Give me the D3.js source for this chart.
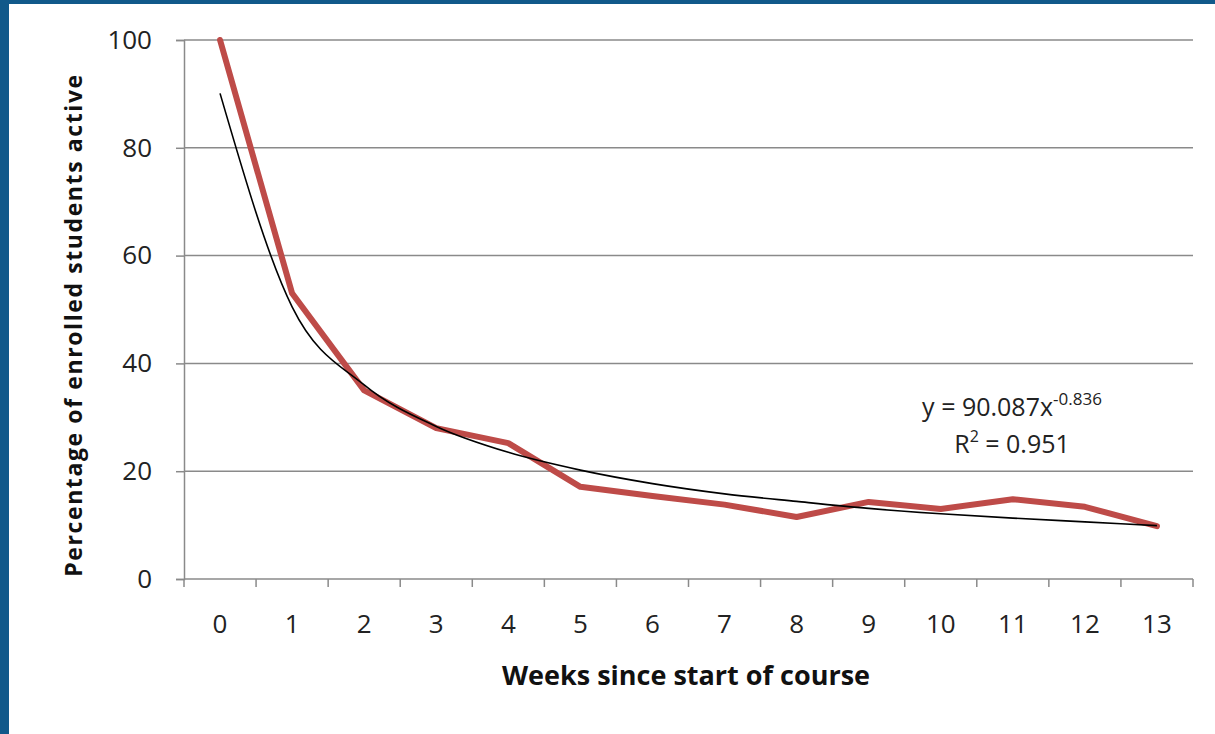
<!DOCTYPE html>
<html>
<head>
<meta charset="utf-8">
<script src="https://cdn.jsdelivr.net/npm/d3@7"></script>
<style>
  body { margin: 0; background: #fff; }
  svg { display: block; font-family: "Open Sans", "Liberation Sans", sans-serif; }
  .tick text { fill: #222; font-size: 26px; font-family: "Open Sans", sans-serif; }
  .axis-title { font-weight: bold; fill: #111; }
</style>
</head>
<body>
<div id="chart"></div>
<script>
const svgWidth = 1215;
const svgHeight = 734;

// weeks since start of course (category axis)
var weeks = [0, 1, 2, 3, 4, 5, 6, 7, 8, 9, 10, 11, 12, 13];
// percentage of enrolled students active
var active = [100, 53, 35, 28, 25.2, 17.1, 15.4, 13.8, 11.5, 14.3, 13, 14.8, 13.4, 9.8];
// power trendline values at each week (y = 90.087x^-0.836)
var trend = [90.1, 50.5, 36.0, 28.3, 23.5, 20.2, 17.7, 15.8, 14.4, 13.1, 12.1, 11.3, 10.6, 9.9];
var yTicks = [0, 20, 40, 60, 80, 100];

var margin = { top: 40, right: 22, bottom: 155, left: 184 };
var width = svgWidth - margin.left - margin.right;
var height = svgHeight - margin.top - margin.bottom;

var svg = d3.select("#chart")
  .append("svg")
  .attr("width", svgWidth)
  .attr("height", svgHeight);

// blue frame along top and left edge
svg.append("rect").attr("x", 0).attr("y", 0).attr("width", svgWidth).attr("height", 4).attr("fill", "#11598a");
svg.append("rect").attr("x", 0).attr("y", 0).attr("width", 9).attr("height", svgHeight).attr("fill", "#11598a");

var chartGroup = svg.append("g")
  .attr("transform", `translate(${margin.left}, ${margin.top})`);

var xBand = d3.scaleBand()
  .domain(weeks)
  .range([0, width]);

var yLinearScale = d3.scaleLinear()
  .domain([0, 100])
  .range([height, 0]);

// gridlines
chartGroup.append("g")
  .selectAll("line")
  .data(yTicks.filter(d => d > 0))
  .enter()
  .append("line")
  .attr("x1", 0)
  .attr("x2", width)
  .attr("y1", d => yLinearScale(d))
  .attr("y2", d => yLinearScale(d))
  .attr("stroke", "#8a8a8a")
  .attr("stroke-width", 1.5);

// y axis
var leftAxis = d3.axisLeft(yLinearScale)
  .tickValues(yTicks)
  .tickSize(8)
  .tickPadding(24);

var yAxis = chartGroup.append("g").call(leftAxis);
yAxis.select(".domain").attr("stroke", "#8a8a8a").attr("stroke-width", 1.5);
yAxis.selectAll(".tick line").attr("stroke", "#8a8a8a").attr("stroke-width", 1.5);

// x axis: ticks sit between categories
var bottomAxis = d3.axisBottom(xBand)
  .tickSize(0)
  .tickPadding(36);

var xAxis = chartGroup.append("g")
  .attr("transform", `translate(0, ${height})`)
  .call(bottomAxis);
xAxis.select(".domain").remove();

xAxis.append("line")
  .attr("x1", 0).attr("x2", width)
  .attr("stroke", "#8a8a8a").attr("stroke-width", 1.5);

xAxis.selectAll(".sep")
  .data(weeks.concat([weeks.length]))
  .enter()
  .append("line")
  .attr("class", "sep")
  .attr("x1", (d, i) => i * xBand.step())
  .attr("x2", (d, i) => i * xBand.step())
  .attr("y1", 0)
  .attr("y2", 8)
  .attr("stroke", "#8a8a8a")
  .attr("stroke-width", 1.5);

var xPos = d => xBand(d) + xBand.bandwidth() / 2;

// data line
var dataLine = d3.line()
  .x((d, i) => xPos(weeks[i]))
  .y(d => yLinearScale(d));

var trendLine = d3.line()
  .x((d, i) => xPos(weeks[i]))
  .y(d => yLinearScale(d))
  .curve(d3.curveMonotoneX);

chartGroup.append("path")
  .datum(active)
  .attr("d", dataLine)
  .attr("fill", "none")
  .attr("stroke", "#be4b48")
  .attr("stroke-width", 6)
  .attr("stroke-linejoin", "round")
  .attr("stroke-linecap", "round");

// trendline
chartGroup.append("path")
  .datum(trend)
  .attr("d", trendLine)
  .attr("fill", "none")
  .attr("stroke", "#000")
  .attr("stroke-width", 1.6);

// equation label
var eq = chartGroup.append("text")
  .attr("x", 1012 - margin.left)
  .attr("y", 416 - margin.top)
  .attr("text-anchor", "middle")
  .attr("font-size", 25)
  .attr("fill", "#222");
eq.append("tspan").text("y = 90.087x");
eq.append("tspan").attr("dy", -11).attr("font-size", 17).text("-0.836");

var r2 = chartGroup.append("text")
  .attr("x", 1012 - margin.left)
  .attr("y", 453 - margin.top)
  .attr("text-anchor", "middle")
  .attr("font-size", 25)
  .attr("fill", "#222");
r2.append("tspan").text("R");
r2.append("tspan").attr("dy", -11).attr("font-size", 16).text("2");
r2.append("tspan").attr("dy", 11).text(" = 0.951");

// axis titles
svg.append("text")
  .attr("class", "axis-title")
  .attr("x", 686)
  .attr("y", 685)
  .attr("text-anchor", "middle")
  .attr("font-size", 27)
  .text("Weeks since start of course");

svg.append("text")
  .attr("class", "axis-title")
  .attr("transform", "translate(82, 325) rotate(-90)")
  .attr("text-anchor", "middle")
  .attr("font-size", 23)
  .attr("letter-spacing", 1.6)
  .text("Percentage of enrolled students active");
</script>
</body>
</html>
